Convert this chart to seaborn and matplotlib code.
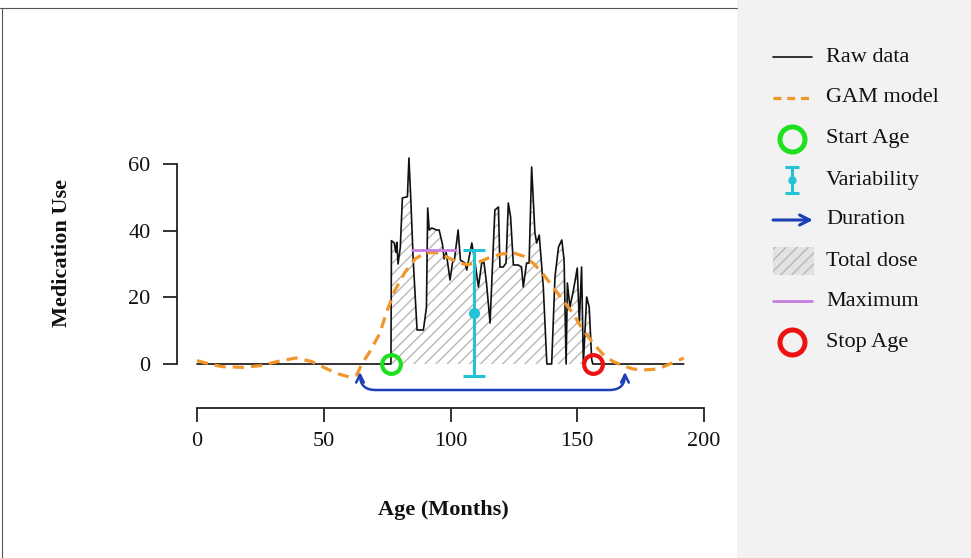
import numpy as np
import pandas as pd
import matplotlib
matplotlib.use("Agg")
import matplotlib.pyplot as plt
import seaborn as sns
from matplotlib.path import Path
from matplotlib.patches import FancyArrowPatch, Rectangle
from matplotlib.lines import Line2D

# ---------------- data ----------------
raw_age = [0, 76.5, 76.7, 77.8, 78.4, 78.8, 79.3, 80.2, 81.0, 83.0, 83.6, 84.3, 85.3,
           86.8, 89.3, 90.5, 91.0, 91.6, 92.6, 94.5, 95.5, 96.8, 97.5, 98.3, 99.8,
           100.8, 101.5, 103.0, 103.9, 105.7, 106.4, 108.4, 109.7, 111.0, 112.3,
           113.2, 114.2, 115.6, 116.6, 117.5, 118.9, 119.5, 120.8, 121.9, 122.8,
           123.7, 124.8, 126.7, 128.0, 128.7, 130.0, 131.0, 132.0, 133.3, 134.0,
           135.0, 136.6, 138.0, 139.9, 141.2, 142.6, 143.9, 144.8, 145.6, 146.1,
           147.1, 148.5, 150.0, 150.8, 151.7, 152.4, 153.7, 154.7, 155.7, 156.2, 192]
raw_use = [0, 0, 37, 36.3, 33.5, 36.5, 30, 35, 49.8, 50.2, 61.8, 50, 31,
           10.2, 10.2, 17, 46.8, 40.2, 40.8, 40.2, 40.2, 36, 31.5, 33.5, 25.2,
           30.5, 31, 40.2, 31.2, 30.3, 28.2, 36.3, 30.3, 23.1, 30.3,
           30.5, 24.3, 12.3, 30.3, 46.2, 47.1, 29.1, 29.1, 30.3, 48.3,
           44.1, 29.7, 29.7, 29.1, 23.1, 30.3, 30.3, 59.1, 39.3, 36.3,
           38.7, 23.1, 0, 0, 26.1, 35.1, 37.2, 31.2, 0, 24.3,
           17.1, 22.2, 28.8, 12.3, 29.1, 0, 20.1, 17.1, 1.2, 0, 0]

gam_age = [0, 5, 10, 18, 25, 32, 39, 45, 50, 55, 60, 63, 65, 68, 72, 75, 78, 82,
           86, 90, 94, 98, 102, 106, 110, 115, 120, 125, 129, 133, 137, 140, 144,
           148, 152, 156, 160, 164, 168, 172, 176, 180, 184, 188, 192]
gam_fit = [1.0, 0.0, -0.8, -1.0, -0.5, 0.8, 1.8, 0.8, -1.0, -2.8, -3.9, -3.3, 0.0,
           3.5, 9.0, 16.0, 22.0, 27.5, 31.5, 33.3, 33.5, 32.3, 30.8, 29.8, 30.2,
           31.8, 33.0, 33.3, 32.3, 30.0, 26.5, 23.5, 19.5, 15.5, 10.5, 6.5, 3.0,
           0.8, -0.5, -1.5, -1.8, -1.6, -0.8, 0.5, 1.8]

start_age = 76.5
stop_age = 156.2
duration_from = 64.3
duration_to = 168.8
var_age = 109.3
var_mean = 15.3
var_sd = 19.0
max_from = 85.0
max_to = 102.0
max_value = 34.2

x_ticks = [0, 50, 100, 150, 200]
y_ticks = [0, 20, 40, 60]
x_label = "Age (Months)"
y_label = "Medication Use"
legend_labels = ["Raw data", "GAM model", "Start Age", "Variability",
                 "Duration", "Total dose", "Maximum", "Stop Age"]

# ---------------- style ----------------
BLACK = "#111111"
ORANGE = "#f0962a"
GREEN = "#1fe01f"
CYAN = "#22c4d4"
BLUE = "#1c3fb8"
PURPLE = "#c77ee0"
RED = "#ee1111"
HATCH = "#b8b8b8"

sns.set_style("white")
plt.rcParams["font.family"] = ["Liberation Serif", "DejaVu Serif"]
plt.rcParams["hatch.color"] = HATCH
plt.rcParams["hatch.linewidth"] = 1.0

W, H = 971, 558
fig = plt.figure(figsize=(W / 100, H / 100), dpi=100)
fig.patch.set_facecolor("white")

ax_l, ax_r, ax_t, ax_b = 177, 720, 150, 408
ax = fig.add_axes([ax_l / W, (H - ax_b) / H, (ax_r - ax_l) / W, (ax_b - ax_t) / H])
ax.set_facecolor("none")
ax.set_xlim(-7.89, 206.3)
ax.set_ylim(-13.2, 64.2)

raw_df = pd.DataFrame({"age": raw_age, "use": raw_use})
gam_df = pd.DataFrame({"age": gam_age, "fit": gam_fit})

# total dose hatch
sub = raw_df[(raw_df.age >= start_age) & (raw_df.age <= stop_age)]
ax.fill_between(sub.age, sub.use, 0, facecolor="none", edgecolor=HATCH,
                hatch="///", linewidth=0, zorder=1)

sns.lineplot(data=raw_df, x="age", y="use", estimator=None, sort=False,
             color=BLACK, linewidth=1.2, ax=ax, zorder=3)
sns.lineplot(data=gam_df, x="age", y="fit", estimator=None, sort=False,
             color=ORANGE, linewidth=2.3, dashes=False, ax=ax, zorder=4)
ax.lines[-1].set_dashes([3.5, 2.2])

# maximum
ax.plot([max_from, max_to], [max_value, max_value], color=PURPLE, lw=2, zorder=5)

# variability
ax.errorbar(var_age, var_mean, yerr=var_sd, fmt="o", color=CYAN, ms=7,
            elinewidth=2.2, capsize=8, capthick=2.2, zorder=6)

# duration arrow
verts = [(duration_from, -2.4), (duration_from, -6.2), (duration_from + 1.8, -7.8),
         (duration_from + 6.2, -7.8), (duration_to - 6.2, -7.8),
         (duration_to - 1.8, -7.8), (duration_to, -6.2), (duration_to, -2.4)]
codes = [Path.MOVETO, Path.CURVE4, Path.CURVE4, Path.CURVE4, Path.LINETO,
         Path.CURVE4, Path.CURVE4, Path.CURVE4]
arrow = FancyArrowPatch(path=Path(verts, codes), arrowstyle="<->",
                        mutation_scale=14, color=BLUE, lw=1.8, zorder=6)
ax.add_patch(arrow)

# start / stop markers
ax.plot([start_age], [0], "o", ms=13.5, mfc="none", mec=GREEN, mew=3, zorder=7)
ax.plot([stop_age], [0], "o", ms=13.5, mfc="none", mec=RED, mew=3, zorder=7)

# axes styling
for s in ["top", "right"]:
    ax.spines[s].set_visible(False)
ax.spines["left"].set_bounds(0, 60)
ax.spines["bottom"].set_bounds(0, 200)
for s in ["left", "bottom"]:
    ax.spines[s].set_color("#222222")
    ax.spines[s].set_linewidth(1.3)
ax.set_xticks(x_ticks)
ax.set_yticks(y_ticks)
ax.tick_params(axis="both", direction="out", length=10, width=1.3,
               color="#222222", labelsize=16, labelcolor="#111111",
               bottom=True, left=True, top=False, right=False)
ax.tick_params(axis="x", pad=7)
ax.tick_params(axis="y", pad=9)
ax.set_xlabel("")
ax.set_ylabel("")

fig.text(62 / W, 1 - 253 / H, y_label, rotation=90, ha="center", va="center",
         fontsize=16, fontweight="bold", color="#111111")
fig.text(443 / W, 1 - 510 / H, x_label, ha="center", va="center",
         fontsize=16, fontweight="bold", color="#111111")

# ---------------- legend panel ----------------
lax = fig.add_axes([737 / W, 0, (W - 737) / W, 1])
lax.set_xlim(737, W)
lax.set_ylim(H, 0)
lax.set_facecolor("#f2f2f2")
for s in lax.spines.values():
    s.set_visible(False)
lax.set_xticks([])
lax.set_yticks([])

rows = [57, 98, 139, 180, 220, 261, 301, 342]
hx0, hx1, hxc, tx = 773, 812, 792, 826
lax.plot([hx0, hx1], [rows[0]] * 2, color=BLACK, lw=1.2)
l2, = lax.plot([hx0, hx1], [rows[1]] * 2, color=ORANGE, lw=2.3)
l2.set_dashes([2.5, 1.8])
lax.plot([hxc], [rows[2]], "o", ms=18, mfc="none", mec=GREEN, mew=3.6)
lax.errorbar([hxc], [rows[3]], yerr=13, fmt="o", color=CYAN, ms=5,
             elinewidth=2.2, capsize=5, capthick=2.2)
lax.annotate("", xy=(hx1 + 1, rows[4]), xytext=(hx0, rows[4]),
             arrowprops=dict(arrowstyle="->", color=BLUE, lw=2.2,
                             mutation_scale=18, shrinkA=0, shrinkB=0))
lax.add_patch(Rectangle((hx0, rows[5] - 14), 41, 28, facecolor="#e2e2e2",
                        edgecolor=HATCH, hatch="///", lw=0))
lax.plot([hx0, hx1], [rows[6]] * 2, color=PURPLE, lw=2)
lax.plot([hxc], [rows[7]], "o", ms=18, mfc="none", mec=RED, mew=3.6)
for r, lab in zip(rows, legend_labels):
    lax.text(tx, r, lab, ha="left", va="center", fontsize=16, color="#111111")

# thin frame around the plotting panel
fig.add_artist(Line2D([0, 737 / W], [1 - 8 / H, 1 - 8 / H], color="#555555",
                      lw=0.8, transform=fig.transFigure))
fig.add_artist(Line2D([1.5 / W, 1.5 / W], [0, 1 - 8 / H], color="#555555",
                      lw=0.8, transform=fig.transFigure))

fig.savefig("out.png", dpi=100)
